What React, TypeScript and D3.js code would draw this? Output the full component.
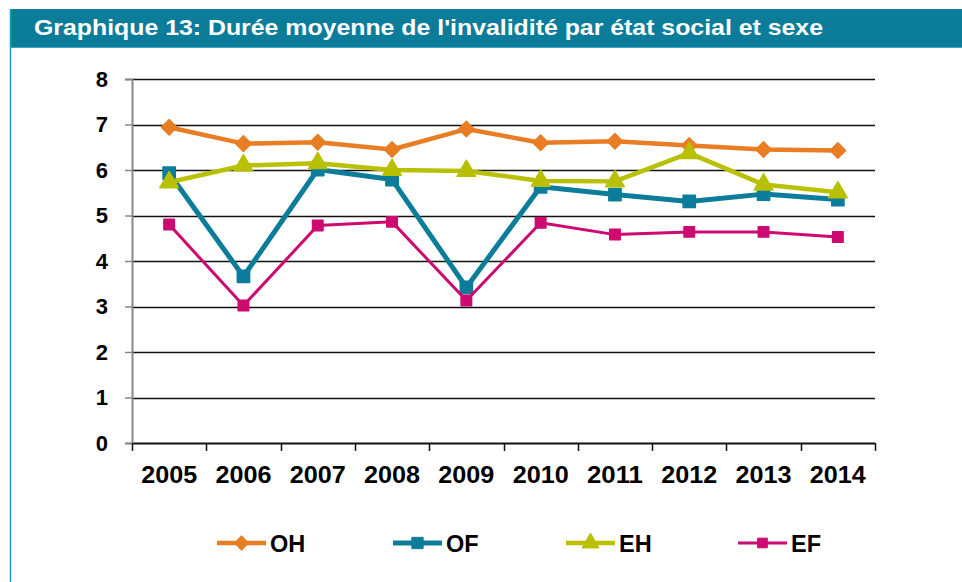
import React, { useRef, useEffect } from 'react';
import * as d3 from 'd3';

const years = ['2005', '2006', '2007', '2008', '2009', '2010', '2011', '2012', '2013', '2014'];
const ohValues = [6.94, 6.58, 6.61, 6.45, 6.9, 6.6, 6.63, 6.54, 6.45, 6.43];
const ofValues = [5.93, 3.66, 6.01, 5.79, 3.42, 5.63, 5.46, 5.31, 5.47, 5.35];
const ehValues = [5.73, 6.1, 6.15, 6.0, 5.98, 5.76, 5.75, 6.37, 5.68, 5.51];
const efValues = [4.8, 3.02, 4.78, 4.86, 3.13, 4.84, 4.58, 4.64, 4.64, 4.53];
const yTicks = [0, 1, 2, 3, 4, 5, 6, 7, 8];
const title = "Graphique 13: Durée moyenne de l'invalidité par état social et sexe";

interface Series {
  name: string,
  values: number[],
  color: string,
  width: number,
  symbol: d3.SymbolType,
  size: number,
  rotate: number
}

const series: Series[] = [
  { name: 'OH', values: ohValues, color: '#e87d23', width: 4.5, symbol: d3.symbolSquare, size: 120, rotate: 45 },
  { name: 'OF', values: ofValues, color: '#0b7d9b', width: 5, symbol: d3.symbolSquare, size: 150, rotate: 0 },
  { name: 'EH', values: ehValues, color: '#b9c000', width: 4.5, symbol: d3.symbolTriangle, size: 150, rotate: 0 },
  { name: 'EF', values: efValues, color: '#cc0a6f', width: 3, symbol: d3.symbolSquare, size: 110, rotate: 0 },
];

const App: React.FC = () => {
  const ref = useRef<SVGSVGElement | null>(null);

  useEffect(() => {
    if (!ref.current) return;
    const width = 962;
    const height = 582;
    const margin = { top: 79, right: 87, bottom: 139, left: 132 };
    const innerW = width - margin.left - margin.right;
    const innerH = height - margin.top - margin.bottom;
    const font = '"Liberation Sans", Arial, sans-serif';

    const svg = d3.select(ref.current);
    svg.selectAll('*').remove();

    // frame: title bar + left rule
    svg.append('rect').attr('x', 10).attr('y', 9).attr('width', width - 10).attr('height', 38).attr('fill', '#0b7c9a');
    svg.append('line').attr('x1', 10).attr('x2', width).attr('y1', 47.5).attr('y2', 47.5).attr('stroke', '#3aa6c6').attr('stroke-width', 1);
    svg.append('line').attr('x1', 10.5).attr('x2', 10.5).attr('y1', 9).attr('y2', height).attr('stroke', '#1a9ac0').attr('stroke-width', 1.5);
    svg.append('text')
      .attr('x', 34).attr('y', 34.5)
      .attr('fill', '#fff')
      .attr('textLength', 789).attr('lengthAdjust', 'spacingAndGlyphs')
      .style('font-family', font).style('font-weight', 'bold').style('font-size', '21.5px')
      .text(title);

    const x = d3.scaleBand().domain(years).range([0, innerW]);
    const y = d3.scaleLinear().domain([0, 8]).range([innerH, 0]);

    const g = svg.append('g').attr('transform', `translate(${margin.left},${margin.top})`);

    // gridlines
    g.selectAll('line.grid').data(yTicks).enter().append('line')
      .attr('class', 'grid')
      .attr('x1', 0).attr('x2', innerW)
      .attr('y1', (d) => Math.round(y(d)) + 0.5).attr('y2', (d) => Math.round(y(d)) + 0.5)
      .attr('stroke', '#111').attr('stroke-width', (d) => d === 0 ? 2 : 1.5);

    // y axis
    const yAxis = g.append('g')
      .call(d3.axisLeft(y).tickValues(yTicks).tickSize(7).tickPadding(17).tickFormat(d3.format('d')));
    yAxis.select('.domain').attr('stroke', '#888').attr('stroke-width', 2);
    yAxis.selectAll('.tick line').attr('stroke', '#888').attr('stroke-width', 1.5);
    yAxis.selectAll('.tick text')
      .style('font-family', font).style('font-weight', 'bold').style('font-size', '22px').attr('fill', '#000');

    // x axis
    const xAxis = g.append('g')
      .attr('transform', `translate(0,${innerH})`)
      .call(d3.axisBottom(x).tickSize(0).tickPadding(23));
    xAxis.select('.domain').remove();
    xAxis.selectAll('.tick text')
      .attr('textLength', 56).attr('lengthAdjust', 'spacingAndGlyphs')
      .style('font-family', font).style('font-weight', 'bold').style('font-size', '23.5px').attr('fill', '#000');
    g.selectAll('line.xtick').data(years.concat(['end'])).enter().append('line')
      .attr('class', 'xtick')
      .attr('x1', (_d, i) => Math.round(i * x.bandwidth()) + 0.5)
      .attr('x2', (_d, i) => Math.round(i * x.bandwidth()) + 0.5)
      .attr('y1', innerH).attr('y2', innerH + 8)
      .attr('stroke', '#111').attr('stroke-width', 1.5);

    const cx = (i: number) => (x(years[i]) || 0) + x.bandwidth() / 2;
    const line = d3.line<number>().x((_d, i) => cx(i)).y((d) => y(d));

    series.forEach((s) => {
      g.append('path').datum(s.values)
        .attr('d', line)
        .attr('fill', 'none')
        .attr('stroke', s.color)
        .attr('stroke-width', s.width)
        .attr('stroke-linejoin', 'round');
      g.selectAll(null).data(s.values).enter().append('path')
        .attr('d', d3.symbol().type(s.symbol).size(s.size))
        .attr('transform', (d, i) => `translate(${cx(i)},${y(d)}) rotate(${s.rotate})`)
        .attr('fill', s.color)
        .attr('stroke', s.color)
        .attr('stroke-linejoin', 'round')
        .attr('stroke-width', 1.5);
    });

    // legend
    const legendX = [217, 393, 566, 738];
    const legendY = 543;
    series.forEach((s, i) => {
      const lg = svg.append('g').attr('transform', `translate(${legendX[i]},${legendY})`);
      lg.append('line').attr('x1', 0).attr('x2', 49).attr('y1', 0).attr('y2', 0)
        .attr('stroke', s.color).attr('stroke-width', s.width);
      lg.append('path').attr('d', d3.symbol().type(s.symbol).size(s.size * 0.85))
        .attr('transform', `translate(24.5,0) rotate(${s.rotate})`)
        .attr('fill', s.color).attr('stroke', s.color).attr('stroke-linejoin', 'round');
      lg.append('text').attr('x', 53).attr('y', 8.5)
        .style('font-family', font).style('font-weight', 'bold').style('font-size', '23.5px')
        .attr('fill', '#000')
        .text(s.name);
    });
  }, []);

  return (
    <svg ref={ref} width={962} height={582}
      style={{ position: 'absolute', left: 0, top: 0, background: '#fff' }} />
  );
};

export default App;
